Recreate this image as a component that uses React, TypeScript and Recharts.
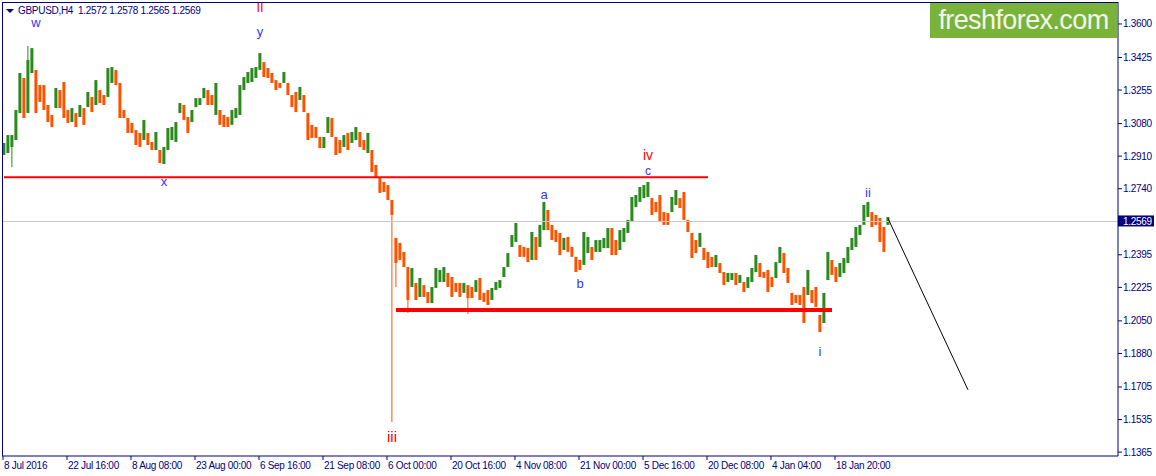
import React from 'react';
import { ComposedChart, Bar, XAxis, YAxis, ReferenceLine, ReferenceDot } from 'recharts';

// GBPUSD H4, one column = roughly four H4 bars (price range of the column)
const highs = [
  1.2979, 1.3020, 1.3020, 1.3151, 1.3344, 1.3318, 1.3412, 1.3474, 1.3360, 1.3281,
  1.3281, 1.3177, 1.3125, 1.3266, 1.3255, 1.3297, 1.3151, 1.3161, 1.3135, 1.3177,
  1.3161, 1.3245, 1.3219, 1.3307, 1.3255, 1.3229, 1.3370, 1.3375, 1.3360, 1.3292,
  1.3151, 1.3109, 1.3083, 1.3046, 1.3031, 1.3099, 1.3031, 1.2984, 1.3036, 1.2942,
  1.2958, 1.3057, 1.3062, 1.3088, 1.3187, 1.3177, 1.3114, 1.3151, 1.3213, 1.3213,
  1.3266, 1.3255, 1.3229, 1.3292, 1.3151, 1.3125, 1.3114, 1.3151, 1.3161, 1.3281,
  1.3323, 1.3349, 1.3370, 1.3375, 1.3448, 1.3401, 1.3370, 1.3344, 1.3307, 1.3292,
  1.3349, 1.3292, 1.3229, 1.3245, 1.3271, 1.3229, 1.3135, 1.3073, 1.3062, 1.3010,
  1.3010, 1.3114, 1.3109, 1.3010, 1.2994, 1.3020, 1.3031, 1.3036, 1.3062, 1.3036,
  1.2994, 1.3031, 1.2942, 1.2864, 1.2801, 1.2775, 1.2759, 1.2681, 1.2483, 1.2457,
  1.2410, 1.2331, 1.2326, 1.2248, 1.2274, 1.2237, 1.2201, 1.2227, 1.2326, 1.2316,
  1.2331, 1.2300, 1.2279, 1.2248, 1.2248, 1.2248, 1.2237, 1.2227, 1.2263, 1.2274,
  1.2196, 1.2211, 1.2222, 1.2253, 1.2263, 1.2331, 1.2404, 1.2498, 1.2561, 1.2446,
  1.2436, 1.2431, 1.2514, 1.2488, 1.2551, 1.2671, 1.2629, 1.2551, 1.2524, 1.2509,
  1.2483, 1.2488, 1.2436, 1.2384, 1.2368, 1.2514, 1.2488, 1.2436, 1.2472, 1.2472,
  1.2483, 1.2535, 1.2535, 1.2472, 1.2524, 1.2535, 1.2577, 1.2697, 1.2707, 1.2749,
  1.2759, 1.2775, 1.2691, 1.2671, 1.2707, 1.2618, 1.2613, 1.2697, 1.2733, 1.2691,
  1.2723, 1.2577, 1.2509, 1.2472, 1.2509, 1.2431, 1.2410, 1.2384, 1.2394, 1.2352,
  1.2305, 1.2300, 1.2300, 1.2300, 1.2290, 1.2253, 1.2279, 1.2326, 1.2394, 1.2352,
  1.2305, 1.2316, 1.2279, 1.2357, 1.2436, 1.2404, 1.2326, 1.2196, 1.2185, 1.2185,
  1.2227, 1.2316, 1.2211, 1.2227, 1.2081, 1.2196, 1.2410, 1.2368, 1.2331, 1.2352,
  1.2378, 1.2436, 1.2483, 1.2540, 1.2551, 1.2655, 1.2671, 1.2618, 1.2603, 1.2587,
  1.2540, 1.2592,
];

const lows = [
  1.2916, 1.2926, 1.2958, 1.2994, 1.3135, 1.3109, 1.3135, 1.3344, 1.3135, 1.3193,
  1.3151, 1.3088, 1.3062, 1.3161, 1.3161, 1.3109, 1.3083, 1.3088, 1.3062, 1.3114,
  1.3073, 1.3166, 1.3140, 1.3177, 1.3187, 1.3177, 1.3219, 1.3292, 1.3281, 1.3109,
  1.3109, 1.3031, 1.3031, 1.2968, 1.2958, 1.2994, 1.2968, 1.2942, 1.2942, 1.2874,
  1.2869, 1.2942, 1.2994, 1.2984, 1.3135, 1.3099, 1.3031, 1.3088, 1.3166, 1.3177,
  1.3213, 1.3177, 1.3177, 1.3125, 1.3073, 1.3062, 1.3062, 1.3073, 1.3109, 1.3125,
  1.3255, 1.3292, 1.3297, 1.3318, 1.3360, 1.3323, 1.3318, 1.3292, 1.3255, 1.3266,
  1.3292, 1.3229, 1.3166, 1.3140, 1.3203, 1.3140, 1.2994, 1.3005, 1.3005, 1.2952,
  1.2952, 1.3031, 1.3010, 1.2916, 1.2926, 1.2958, 1.2942, 1.2979, 1.2994, 1.2958,
  1.2942, 1.2926, 1.2827, 1.2801, 1.2718, 1.2723, 1.2681, 1.2603, 1.2352, 1.2368,
  1.2331, 1.2159, 1.2227, 1.2159, 1.2175, 1.2175, 1.2143, 1.2143, 1.2222, 1.2253,
  1.2253, 1.2227, 1.2175, 1.2201, 1.2175, 1.2196, 1.2169, 1.2169, 1.2201, 1.2159,
  1.2149, 1.2133, 1.2159, 1.2211, 1.2222, 1.2279, 1.2331, 1.2436, 1.2462, 1.2384,
  1.2384, 1.2357, 1.2368, 1.2368, 1.2436, 1.2524, 1.2524, 1.2472, 1.2462, 1.2394,
  1.2420, 1.2410, 1.2384, 1.2305, 1.2316, 1.2342, 1.2404, 1.2368, 1.2410, 1.2410,
  1.2430, 1.2430, 1.2394, 1.2394, 1.2420, 1.2462, 1.2509, 1.2566, 1.2644, 1.2671,
  1.2691, 1.2697, 1.2603, 1.2618, 1.2566, 1.2551, 1.2551, 1.2618, 1.2655, 1.2639,
  1.2577, 1.2514, 1.2378, 1.2404, 1.2436, 1.2368, 1.2326, 1.2331, 1.2331, 1.2300,
  1.2237, 1.2253, 1.2263, 1.2237, 1.2248, 1.2201, 1.2222, 1.2253, 1.2305, 1.2279,
  1.2274, 1.2201, 1.2227, 1.2274, 1.2352, 1.2300, 1.2248, 1.2133, 1.2143, 1.2133,
  1.2039, 1.2185, 1.2143, 1.2123, 1.1992, 1.2039, 1.2263, 1.2290, 1.2253, 1.2279,
  1.2300, 1.2352, 1.2420, 1.2436, 1.2498, 1.2551, 1.2592, 1.2540, 1.2551, 1.2462,
  1.2410, 1.2551,
];

// long single wicks (column index, extreme price)
const tails = [
  { i: 2, p: 1.2853 },
  { i: 6, p: 1.3485 },
  { i: 97, p: 1.1522 },
  { i: 98, p: 1.2227 },
  { i: 101, p: 1.2091 },
  { i: 116, p: 1.2086 },
];

const tickBars = [0, 16, 32, 48, 64, 80, 96, 112, 128, 144, 160, 176, 192, 208];
const timeLabels = [
  '8 Jul 2016', '22 Jul 16:00', '8 Aug 08:00', '23 Aug 00:00', '6 Sep 16:00', '21 Sep 08:00',
  '6 Oct 00:00', '20 Oct 16:00', '4 Nov 08:00', '21 Nov 00:00', '5 Dec 16:00', '20 Dec 08:00',
  '4 Jan 04:00', '18 Jan 20:00',
];
const priceTicks = [
  1.3600, 1.3425, 1.3255, 1.3080, 1.2910, 1.2740, 1.2569, 1.2395, 1.2225, 1.2050,
  1.1880, 1.1705, 1.1535, 1.1365,
];
const lastPrice = 1.2569;
const quote = 'GBPUSD,H4  1.2572 1.2578 1.2565 1.2569';

const waveLabels = [
  { i: 8, p: 1.3610, text: 'w', color: '#3535ff', size: 13 },
  { i: 64, p: 1.3688, text: 'II', color: '#ff0000', size: 13 },
  { i: 64, p: 1.3558, text: 'y', color: '#3535ff', size: 13 },
  { i: 40, p: 1.2780, text: 'x', color: '#3535ff', size: 13 },
  { i: 97, p: 1.1449, text: 'iii', color: '#ff0000', size: 15 },
  { i: 135, p: 1.2712, text: 'a', color: '#3535ff', size: 13 },
  { i: 144, p: 1.2243, text: 'b', color: '#3535ff', size: 13 },
  { i: 161, p: 1.2918, text: 'iv', color: '#ff0000', size: 14 },
  { i: 161, p: 1.2834, text: 'c', color: '#3535ff', size: 12 },
  { i: 204, p: 1.1888, text: 'i', color: '#3535ff', size: 13 },
  { i: 216, p: 1.2718, text: 'ii', color: '#3535ff', size: 13 },
];

const resistance = { from: 0, to: 176, p: 1.2800 };
const support = { from: 98, to: 207, p: 1.2107 };
const forecast = [{ i: 221, p: 1.2585 }, { i: 241, p: 1.1690 }];

const SLOTS = 279;
const UP = '#2b8a1d';
const DOWN = '#ff5200';
const NAVY = '#000080';
const FONT = '"Liberation Sans", Arial, sans-serif';

const data = Array.from({ length: SLOTS }, (_, i) => {
  if (i >= highs.length) return { i, body: null };
  const mid = (highs[i] + lows[i]) / 2;
  const prev = i > 0 ? (highs[i - 1] + lows[i - 1]) / 2 : mid;
  const t = tails.find((d) => d.i === i);
  return { i, body: [lows[i], highs[i]], up: mid >= prev, tail: t ? t.p : null };
});

function Candle(props: any) {
  const { x, y, width, height, payload } = props;
  if (!payload || !payload.body) return null;
  const color = payload.up ? UP : DOWN;
  const cx = x + width / 2;
  const top = Math.min(y, y + height);
  const h = Math.max(Math.abs(height), 1);
  const [lo, hi] = payload.body;
  let wick = null;
  if (payload.tail != null && hi > lo) {
    const ty = top + ((hi - payload.tail) * h) / (hi - lo);
    wick = (
      <line x1={cx} x2={cx} y1={Math.min(ty, top)} y2={Math.max(ty, top + h)} stroke={color} strokeWidth={1} />
    );
  }
  return (
    <g>
      {wick}
      <rect x={cx - 1.5} y={top} width={3} height={h} fill={color} />
    </g>
  );
}

function XTick(props: any) {
  const { x, y, payload } = props;
  const k = tickBars.indexOf(payload.value);
  return (
    <g>
      <line x1={x - 1} x2={x - 1} y1={y} y2={y + 4} stroke={NAVY} />
      <text x={x} y={y + 13} fontSize={10} fill={NAVY} fontFamily={FONT} letterSpacing={-0.3}>
        {timeLabels[k]}
      </text>
    </g>
  );
}

function YTick(props: any) {
  const { x, y, payload } = props;
  const v = payload.value;
  if (v === lastPrice) {
    return (
      <g>
        <rect x={x} y={y - 6} width={36} height={11} fill={NAVY} />
        <text x={x + 5} y={y + 3.5} fontSize={10} fill="#ffffff" fontFamily={FONT} letterSpacing={-0.3}>
          {v.toFixed(4)}
        </text>
      </g>
    );
  }
  return (
    <g>
      <line x1={x} x2={x + 4} y1={y} y2={y} stroke={NAVY} />
      <text x={x + 5} y={y + 3.5} fontSize={10} fill={NAVY} fontFamily={FONT} letterSpacing={-0.3}>
        {v.toFixed(4)}
      </text>
    </g>
  );
}

export default function App() {
  return (
    <div style={{ position: 'absolute', left: 0, top: 0, width: 1156, height: 476, background: '#fff' }}>
      <ComposedChart width={1156} height={476} data={data} margin={{ top: 2, right: 0, bottom: 0, left: 2 }}>
        <XAxis
          dataKey="i"
          type="category"
          ticks={tickBars}
          interval={0}
          height={20}
          axisLine={{ stroke: NAVY }}
          tickLine={false}
          tickSize={0}
          tickMargin={0}
          tick={<XTick />}
        />
        <YAxis
          orientation="right"
          width={38}
          domain={[1.13447, 1.37146]}
          allowDataOverflow
          ticks={priceTicks}
          interval={0}
          axisLine={{ stroke: NAVY }}
          tickLine={false}
          tickSize={0}
          tickMargin={0}
          tick={<YTick />}
        />
        <ReferenceLine y={lastPrice} stroke="#c8c8c8" strokeWidth={1} />
        <Bar dataKey="body" shape={<Candle />} isAnimationActive={false} />
        <ReferenceLine
          segment={[{ x: resistance.from, y: resistance.p }, { x: resistance.to, y: resistance.p }]}
          stroke="#ff0000"
          strokeWidth={2}
        />
        <ReferenceLine
          segment={[{ x: support.from, y: support.p }, { x: support.to, y: support.p }]}
          stroke="#ff0000"
          strokeWidth={4}
        />
        <ReferenceLine
          segment={[{ x: forecast[0].i, y: forecast[0].p }, { x: forecast[1].i, y: forecast[1].p }]}
          stroke="#000000"
          strokeWidth={1}
        />
        {waveLabels.map((w, k) => (
          <ReferenceDot
            key={k}
            x={w.i}
            y={w.p}
            r={0}
            ifOverflow="visible"
            shape={(p: any) => (
              <text
                x={p.cx}
                y={p.cy}
                textAnchor="middle"
                dominantBaseline="central"
                fontSize={w.size}
                fill={w.color}
                fontFamily={FONT}
              >
                {w.text}
              </text>
            )}
          />
        ))}
      </ComposedChart>
      <div
        style={{
          position: 'absolute', left: 2, top: 2, width: 1116, height: 454,
          borderLeft: `1px solid ${NAVY}`, borderTop: `1px solid ${NAVY}`, pointerEvents: 'none', boxSizing: 'border-box',
        }}
      />
      <div
        style={{
          position: 'absolute', left: 6, top: 9, width: 0, height: 0,
          borderLeft: '4px solid transparent', borderRight: '4px solid transparent', borderTop: `4px solid ${NAVY}`,
        }}
      />
      <div
        style={{
          position: 'absolute', left: 18, top: 4, fontSize: 10, fontFamily: FONT, color: NAVY,
          letterSpacing: -0.3, whiteSpace: 'pre', lineHeight: '14px',
        }}
      >
        {quote}
      </div>
      <div
        style={{
          position: 'absolute', left: 930, top: 3, width: 187, height: 35, background: '#7ab33a',
          color: '#f3f6ec', fontFamily: FONT, fontSize: 27, letterSpacing: -0.6, lineHeight: '35px', textAlign: 'center',
        }}
      >
        freshforex.com
      </div>
    </div>
  );
}
